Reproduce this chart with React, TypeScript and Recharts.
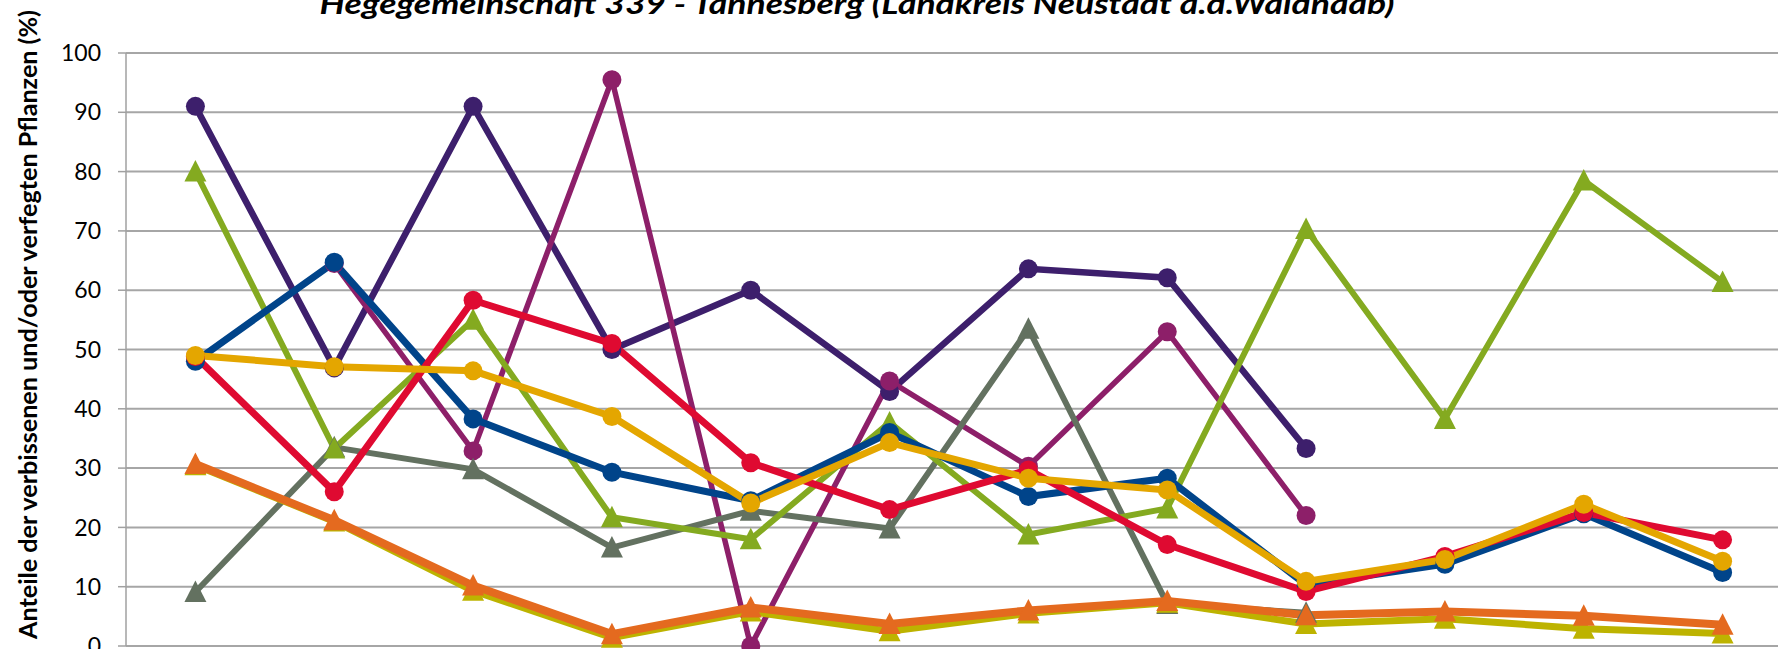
import React from 'react';
import { LineChart, Line, XAxis, YAxis, CartesianGrid } from 'recharts';

// category positions (the x labels are cut off in the picture)
const categories = [1, 2, 3, 4, 5, 6, 7, 8, 9, 10, 11, 12];
const yTicks = [0, 10, 20, 30, 40, 50, 60, 70, 80, 90, 100];
const xTicks = [0.5, 1.5, 2.5, 3.5, 4.5, 5.5, 6.5, 7.5, 8.5, 9.5, 10.5, 11.5, 12.5];

const purple = [91, 46.9, 91, 50, 60, 42.9, 63.6, 62.1, 33.3, null, null, null];
const magenta = [null, 64.5, 32.9, 95.5, 0, 44.7, 30.3, 53, 22, null, null, null];
const blue = [48, 64.7, 38.3, 29.3, 24.5, 36, 25.2, 28.3, 10.3, 13.8, 22.3, 12.4];
const red = [48.8, 26, 58.3, 51, 30.9, 23, 29.7, 17.1, 9.2, 15.1, 22.5, 17.9];
const gold = [49, 47.1, 46.4, 38.7, 24.1, 34.3, 28.3, 26.3, 10.9, 14.6, 23.9, 14.3];
const green = [80, 33.3, 55, 21.7, 18, 37.7, 18.8, 23.2, 70.3, 38.3, 78.5, 61.4];
const grey = [9.1, 33.5, 29.8, 16.6, 22.8, 19.8, 53.5, 7.1, 5.6, null, null, null];
const olive = [30.5, 21, 9.3, 1.4, 5.8, 2.5, 5.5, 7.3, 3.7, 4.6, 2.9, 2.1];
const orange = [30.7, 21.2, 10.2, 2, 6.5, 3.7, 6, 7.6, 5.2, 5.8, 5.1, 3.6];

const SERIES = [
  { key: 'purple', values: purple, color: '#3D1F6C', width: 6.5, marker: 'circle' },
  { key: 'magenta', values: magenta, color: '#8D1F69', width: 5.5, marker: 'circle' },
  { key: 'grey', values: grey, color: '#637160', width: 6, marker: 'triangle' },
  { key: 'green', values: green, color: '#84AA20', width: 6, marker: 'triangle' },
  { key: 'blue', values: blue, color: '#00448A', width: 7, marker: 'circle' },
  { key: 'red', values: red, color: '#DF0A31', width: 7, marker: 'circle' },
  { key: 'gold', values: gold, color: '#E4A600', width: 7, marker: 'circle' },
  { key: 'olive', values: olive, color: '#BDB300', width: 7, marker: 'triangle' },
  { key: 'orange', values: orange, color: '#E46A1F', width: 8, marker: 'triangle' },
];

const data = categories.map((c, i) => {
  const row: any = { x: c };
  SERIES.forEach(s => {
    row[s.key] = s.values[i];
  });
  return row;
});

const triangleDot = (color: string) => (props: any) => {
  const { cx, cy, index } = props;
  if (cx == null || cy == null || props.value == null) return <g key={`t-${index}`} />;
  return (
    <polygon
      key={`t-${index}`}
      points={`${cx},${cy - 11.5} ${cx - 11},${cy + 10} ${cx + 11},${cy + 10}`}
      fill={color}
    />
  );
};

export default function App() {
  return (
    <div style={{ position: 'absolute', left: 0, top: 0, width: 1778, height: 649, overflow: 'hidden', background: '#fff' }}>
      <LineChart
        width={1800}
        height={649}
        data={data}
        margin={{ top: 53, right: 8, bottom: 0, left: 0 }}
      >
        <CartesianGrid vertical={false} stroke="#A6A6A6" strokeWidth={2} />
        <XAxis
          dataKey="x"
          type="number"
          domain={[0.5, 12.5]}
          ticks={xTicks}
          tick={false}
          height={3}
          tickSize={8}
          axisLine={{ stroke: '#A6A6A6', strokeWidth: 2 }}
          tickLine={{ stroke: '#A0A0A0', strokeWidth: 1.5 }}
        />
        <YAxis
          domain={[0, 100]}
          ticks={yTicks}
          width={126}
          tickSize={8}
          tickMargin={17}
          interval={0}
          axisLine={{ stroke: '#A0A0A0', strokeWidth: 1.5 }}
          tickLine={{ stroke: '#A0A0A0', strokeWidth: 1.5 }}
          tick={{ fill: '#000', fontSize: 23, fontFamily: 'Lato' }}
        />
        {SERIES.map(s => (
          <Line
            key={s.key}
            dataKey={s.key}
            stroke={s.color}
            strokeWidth={s.width}
            isAnimationActive={false}
            activeDot={false}
            dot={
              s.marker === 'circle'
                ? { r: 9.5, fill: s.color, stroke: s.color, strokeWidth: 0 }
                : triangleDot(s.color)
            }
          />
        ))}
      </LineChart>
      <svg
        width={1778}
        height={649}
        style={{ position: 'absolute', left: 0, top: 0, pointerEvents: 'none' }}
      >
        <text
          x={857}
          y={13.5}
          textAnchor="middle"
          fontFamily="Lato"
          fontWeight={700}
          fontStyle="italic"
          fontSize={29}
          textLength={1075}
          lengthAdjust="spacingAndGlyphs"
          fill="#000"
        >
          Hegegemeinschaft 339 - Tannesberg (Landkreis Neustadt a.d.Waldnaab)
        </text>
        <text
          x={37}
          y={324.5}
          transform="rotate(-90 37 324.5)"
          textAnchor="middle"
          fontFamily="Lato"
          fontWeight={700}
          fontSize={24}
          textLength={629}
          lengthAdjust="spacingAndGlyphs"
          fill="#000"
        >
          Anteile der verbissenen und/oder verfegten Pflanzen (%)
        </text>
      </svg>
    </div>
  );
}
